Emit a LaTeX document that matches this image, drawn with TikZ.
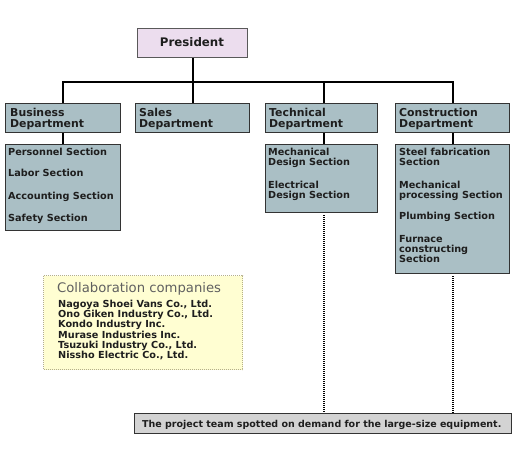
\documentclass[tikz,border=0pt]{standalone}
\usepackage{fontspec}
\setmainfont{DejaVu Sans}
\definecolor{deptfill}{HTML}{AABFC5}
\definecolor{presfill}{HTML}{ECDDEE}
\definecolor{collfill}{HTML}{FFFED2}
\definecolor{collborder}{HTML}{B5B08A}
\definecolor{botfill}{HTML}{D3D3D3}
\definecolor{edgecol}{HTML}{333333}
\definecolor{titlegray}{HTML}{606060}
\definecolor{txt}{HTML}{1E1E1E}
\tikzset{
  box/.style={draw=edgecol, line width=1pt, inner sep=0pt, anchor=north west},
  deptbox/.style={box, fill=deptfill},
  presbox/.style={box, draw=black!65, fill=presfill},
  collbox/.style={box, draw=collborder, fill=collfill, dash pattern=on 1pt off 1pt},
  botbox/.style={box, fill=botfill},
  conn/.style={line width=2pt, black},
  dotconn/.style={line width=2pt, black, dash pattern=on 1pt off 1pt},
  lbl/.style={anchor=base west, inner sep=0pt},
  dept/.style={lbl, font=\fontsize{10.9}{11}\selectfont\bfseries, text=txt},
  sec/.style={lbl, font=\fontsize{9.7}{10}\selectfont\bfseries, text=txt},
  botlbl/.style={lbl, font=\fontsize{9.5}{10}\selectfont\bfseries, text=txt},
  pres/.style={anchor=base, inner sep=0pt, font=\fontsize{11.8}{12}\selectfont\bfseries, text=txt},
  ctitle/.style={lbl, font=\fontsize{13.2}{13}\selectfont, text=titlegray},
}
\begin{document}
\begin{tikzpicture}[x=1pt, y=-1pt]
\useasboundingbox (0,0) rectangle (520,460);
% boxes
\node[presbox, minimum width=110pt, minimum height=29pt] (pres) at (137,28) {};
\node[deptbox, minimum width=115pt, minimum height=29pt] (bus) at (5,103) {};
\node[deptbox, minimum width=114pt, minimum height=29pt] (sales) at (135,103) {};
\node[deptbox, minimum width=112pt, minimum height=29pt] (tech) at (265,103) {};
\node[deptbox, minimum width=114pt, minimum height=29pt] (cons) at (395,103) {};
\node[deptbox, minimum width=115pt, minimum height=86pt] (bussec) at (5,144) {};
\node[deptbox, minimum width=112pt, minimum height=68pt] (techsec) at (265,144) {};
\node[deptbox, minimum width=114pt, minimum height=129pt] (conssec) at (395,144) {};
\node[collbox, minimum width=199pt, minimum height=94pt] (coll) at (43,275) {};
\node[botbox, minimum width=377pt, minimum height=20pt] (bot) at (134,413) {};
% connectors
\coordinate (hl) at (0,82);
\draw[conn] (pres.south) -- (sales.north);
\draw[conn] (bus.north) -- (bus.north |- hl) -- (cons.north |- hl) -- (cons.north);
\draw[conn] ([xshift=2pt]tech.north) -- ([xshift=2pt]tech.north |- hl);
\draw[conn] (bus.south) -- (bussec.north);
\draw[conn] ([xshift=2pt]tech.south) -- ([xshift=2pt]techsec.north);
\draw[conn] (cons.south) -- (conssec.north);
\draw[dotconn] ([xshift=2pt,yshift=-2pt]techsec.south) -- ([xshift=2pt]techsec.south |- bot.north);
\draw[dotconn] ([yshift=-2pt]conssec.south) -- (conssec.south |- bot.north);
% labels
\node[pres] (tpres) at (192,47) {President};
\node[dept] (tb1) at (10,117) {Business};
\node[dept] (tb2) at (10,128) {Department};
\node[dept] (ts1) at (139,117) {Sales};
\node[dept] (ts2) at (139,128) {Department};
\node[dept] (tt1) at (269,117) {Technical};
\node[dept] (tt2) at (269,128) {Department};
\node[dept] (tc1) at (399,117) {Construction};
\node[dept] (tc2) at (399,128) {Department};
% business sections
\node[sec] (bs1) at (8,155.5) {Personnel Section};
\node[sec] (bs2) at (8,176.5) {Labor Section};
\node[sec] (bs3) at (8,199.5) {Accounting Section};
\node[sec] (bs4) at (8,221) {Safety Section};
% technical sections
\node[sec] (ts1a) at (268,155) {Mechanical};
\node[sec] (ts1b) at (268,165) {Design Section};
\node[sec] (ts2a) at (268,188) {Electrical};
\node[sec] (ts2b) at (268,198) {Design Section};
% construction sections
\node[sec] (cs1a) at (399,155) {Steel fabrication};
\node[sec] (cs1b) at (399,165) {Section};
\node[sec] (cs2a) at (399,188) {Mechanical};
\node[sec] (cs2b) at (399,198) {processing Section};
\node[sec] (cs3) at (399,219) {Plumbing Section};
\node[sec] (cs4a) at (399,242) {Furnace};
\node[sec] (cs4b) at (399,252) {constructing};
\node[sec] (cs4c) at (399,262) {Section};
% collaboration
\node[ctitle] (ct) at (57,292) {Collaboration companies};
\node[sec] (c1) at (58,307.5) {Nagoya Shoei Vans Co., Ltd.};
\node[sec] (c2) at (58,317.7) {Ono Giken Industry Co., Ltd.};
\node[sec] (c3) at (58,327.9) {Kondo Industry Inc.};
\node[sec] (c4) at (58,338.1) {Murase Industries Inc.};
\node[sec] (c5) at (58,348.3) {Tsuzuki Industry Co., Ltd.};
\node[sec] (c6) at (58,358.5) {Nissho Electric Co., Ltd.};
% bottom
\node[botlbl] (tbot) at (142,427.5) {The project team spotted on demand for the large-size equipment.};
\end{tikzpicture}
\end{document}
